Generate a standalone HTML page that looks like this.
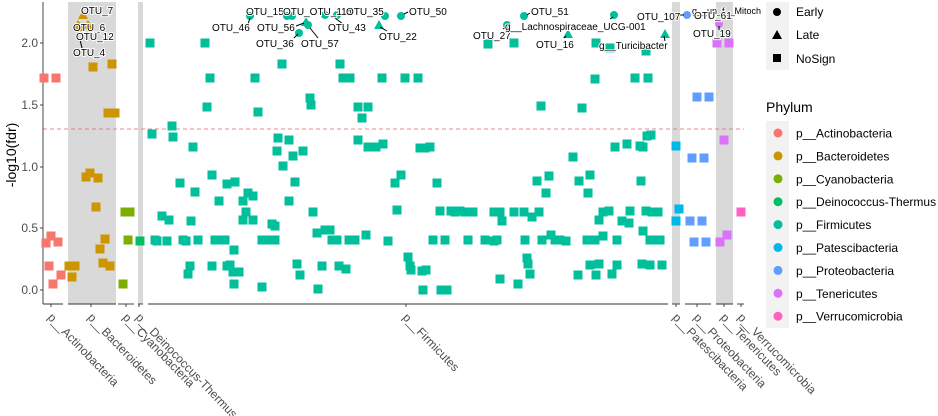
<!DOCTYPE html>
<html><head><meta charset="utf-8"><style>
html,body{margin:0;padding:0;background:#fff;width:938px;height:416px;overflow:hidden}
svg{font-family:"Liberation Sans",sans-serif}
</style></head><body>
<svg id="s" width="938" height="416" xmlns="http://www.w3.org/2000/svg">
<rect x="68" y="2" width="48" height="302" fill="#d9d9d9"/>
<rect x="138" y="2" width="5" height="302" fill="#d9d9d9"/>
<rect x="672" y="2" width="8" height="302" fill="#d9d9d9"/>
<rect x="716" y="2" width="17" height="302" fill="#d9d9d9"/>
<line x1="43" y1="129" x2="744" y2="129" stroke="#e06666" stroke-width="0.8" stroke-dasharray="4,3"/>
<line x1="43" y1="2" x2="43" y2="304" stroke="#333" stroke-width="0.9"/>
<g stroke="#333" stroke-width="0.9">
<line x1="40" y1="43" x2="43" y2="43"/><line x1="40" y1="105" x2="43" y2="105"/><line x1="40" y1="167" x2="43" y2="167"/><line x1="40" y1="228" x2="43" y2="228"/><line x1="40" y1="290" x2="43" y2="290"/>
</g>
<g font-size="12" fill="#4d4d4d" text-anchor="end">
<text x="38" y="47">2.0</text><text x="38" y="109">1.5</text><text x="38" y="171">1.0</text><text x="38" y="232">0.5</text><text x="38" y="294">0.0</text>
</g>
<text transform="translate(16,155) rotate(-90)" font-size="14" text-anchor="middle" fill="#000">-log10(fdr)</text>
<g stroke="#333" stroke-width="0.9">
<line x1="43" y1="304" x2="63" y2="304"/><line x1="68" y1="304" x2="116" y2="304"/><line x1="118" y1="304" x2="134" y2="304"/><line x1="138" y1="304" x2="143" y2="304"/><line x1="148" y1="304" x2="668" y2="304"/><line x1="672" y1="304" x2="680" y2="304"/><line x1="685" y1="304" x2="711" y2="304"/><line x1="716" y1="304" x2="733" y2="304"/><line x1="737" y1="304" x2="744" y2="304"/>
<line x1="51" y1="304" x2="51" y2="307"/><line x1="91" y1="304" x2="91" y2="307"/><line x1="126" y1="304" x2="126" y2="307"/><line x1="139" y1="304" x2="139" y2="307"/><line x1="406" y1="304" x2="406" y2="307"/><line x1="676" y1="304" x2="676" y2="307"/><line x1="697" y1="304" x2="697" y2="307"/><line x1="724" y1="304" x2="724" y2="307"/><line x1="741" y1="304" x2="741" y2="307"/>
</g>
<g font-size="12" fill="#4d4d4d">
<text transform="translate(47,318) rotate(46)">p__Actinobacteria</text>
<text transform="translate(87,318) rotate(46)">p__Bacteroidetes</text>
<text transform="translate(122,318) rotate(46)">p__Cyanobacteria</text>
<text transform="translate(135,318) rotate(46)">p__Deinococcus-Thermus</text>
<text transform="translate(402,318) rotate(46)">p__Firmicutes</text>
<text transform="translate(672,318) rotate(46)">p__Patescibacteria</text>
<text transform="translate(693,318) rotate(46)">p__Proteobacteria</text>
<text transform="translate(720,318) rotate(46)">p__Tenericutes</text>
<text transform="translate(737,318) rotate(46)">p__Verrucomicrobia</text>
</g>
<g id="pts"></g>
<g fill="#CD9600">
<polygon points="83,10 88,19 78,19"/><polygon points="78,20 83,29 73,29"/><polygon points="88,20 93,29 83,29"/><polygon points="80,22 85,31 75,31"/>
</g>
<g fill="#00BF9A">
<circle cx="250" cy="16" r="4"/><circle cx="287" cy="16" r="4"/><circle cx="292" cy="16" r="4"/><polygon points="306,17 311,26 301,26"/><circle cx="308" cy="25" r="4"/><circle cx="299" cy="33" r="4"/><circle cx="325" cy="15" r="4"/><circle cx="337" cy="15" r="4"/><circle cx="385" cy="16" r="4"/><polygon points="379,20 384,29 374,29"/><circle cx="401" cy="16" r="4"/><circle cx="507" cy="25" r="4"/><circle cx="524" cy="16" r="4"/><circle cx="614" cy="15" r="4"/><polygon points="568,29 573,38 563,38"/><polygon points="665,29 670,38 660,38"/>
</g>
<circle cx="687" cy="15" r="4" fill="#619CFF"/>
<circle cx="719" cy="24" r="4" fill="#DB72FB"/>
<g stroke="#000" stroke-width="1">
<line x1="80" y1="40" x2="82" y2="48"/><line x1="248" y1="24" x2="250" y2="18"/><line x1="296" y1="26" x2="304" y2="23"/><line x1="310" y1="28" x2="318" y2="38"/><line x1="294" y1="38" x2="298" y2="34"/><line x1="335" y1="18" x2="343" y2="24"/><line x1="380" y1="27" x2="387" y2="31"/><line x1="404" y1="14" x2="408" y2="12"/><line x1="503" y1="29" x2="506" y2="27"/><line x1="527" y1="15" x2="530" y2="13"/><line x1="610" y1="19" x2="613" y2="17"/><line x1="564" y1="38" x2="566" y2="36"/><line x1="664" y1="36" x2="665" y2="41"/><line x1="677" y1="15" x2="684" y2="15"/><line x1="719" y1="26" x2="719" y2="30"/>
</g>
<g font-size="10" fill="#000" stroke="#fff" stroke-width="2" paint-order="stroke">
<text x="81" y="14">OTU_7</text><text x="73" y="31">OTU_6</text><text x="76" y="40">OTU_12</text><text x="73" y="56">OTU_4</text>
<text x="246" y="15">OTU_15</text><text x="283" y="15">OTU_OTU_114</text><text x="212" y="31">OTU_46</text><text x="257" y="31">OTU_56</text><text x="256" y="47">OTU_36</text><text x="301" y="47">OTU_57</text><text x="328" y="31">OTU_43</text><text x="346" y="15">OTU_35</text><text x="379" y="40">OTU_22</text><text x="409" y="15">OTU_50</text>
<text x="473" y="39">OTU_27</text><text x="531" y="15">OTU_51</text><text x="505" y="30">g__Lachnospiraceae_UCG-001</text><text x="536" y="48">OTU_16</text><text x="599" y="49">g__Turicibacter</text>
<text x="637" y="20">OTU_107</text><text x="692" y="14" font-size="9">g__un_f__Mitoch</text><text x="694" y="19">OTU_61</text><text x="693" y="37">OTU_19</text>
</g>
<rect x="766" y="2" width="23" height="68" fill="#f2f2f2"/>
<circle cx="777" cy="12" r="4"/><polygon points="777,30 782,39 772,39"/><rect x="773" y="54" width="8" height="8"/>
<g font-size="12" fill="#000"><text x="796" y="16">Early</text><text x="796" y="39">Late</text><text x="796" y="63">NoSign</text></g>
<text x="766" y="112" font-size="14">Phylum</text>
<rect x="766" y="121" width="23" height="207" fill="#f2f2f2"/>
<g id="leg" font-size="12"></g>
</svg>
<script>
var C={a:"#F8766D",b:"#CD9600",c:"#7CAE00",d:"#00BE67",f:"#00BF9A",p:"#00B8E7",r:"#619CFF",t:"#DB72FB",v:"#FF61C3"};
var P={a:[[44,78],[56,78],[46,243],[51,236],[58,242],[49,266],[61,275],[53,284]],
b:[[93,67],[112,64],[108,113],[115,113],[86,177],[90,173],[98,178],[96,207],[105,239],[100,249],[75,266],[72,277],[69,266],[103,263],[110,266]],
c:[[125,212],[130,212],[128,240],[123,284]],d:[[140,241]],
f:[[150,43],[152,134],[162,216],[155,240],[172,126],[173,137],[157,241],[167,241],[169,220],[180,183],[183,240],[186,241],[191,221],[193,147],[195,192],[198,240],[190,266],[188,274],[205,43],[207,107],[210,78],[212,175],[215,240],[219,201],[222,240],[225,240],[227,184],[230,265],[212,266],[227,266],[233,272],[235,182],[234,250],[239,272],[243,201],[243,220],[246,212],[248,193],[253,196],[255,78],[258,112],[253,220],[234,284],[262,240],[266,240],[262,287],[275,240],[272,224],[275,226],[277,151],[278,138],[282,64],[283,166],[289,140],[293,156],[289,201],[295,182],[300,275],[303,151],[297,264],[310,98],[311,105],[313,212],[317,233],[318,289],[325,230],[322,266],[330,230],[332,240],[337,240],[340,64],[339,266],[343,78],[346,269],[350,78],[349,240],[355,240],[358,107],[358,140],[368,107],[362,118],[366,235],[368,147],[376,147],[382,78],[383,144],[388,241],[395,183],[397,210],[401,175],[405,78],[408,257],[410,266],[411,270],[418,78],[420,148],[422,271],[425,148],[423,290],[426,270],[433,240],[430,147],[437,183],[440,211],[445,240],[441,290],[447,290],[451,211],[455,212],[460,211],[465,212],[468,240],[473,212],[485,240],[488,44],[494,241],[494,212],[500,212],[497,240],[502,221],[500,279],[514,43],[514,212],[524,212],[525,240],[518,284],[527,258],[528,264],[532,217],[530,274],[537,181],[539,212],[542,240],[546,193],[541,106],[549,176],[551,235],[555,240],[560,240],[566,241],[573,157],[579,181],[582,108],[578,275],[587,240],[590,175],[588,193],[590,265],[595,240],[596,43],[599,220],[603,236],[595,79],[599,264],[603,212],[609,211],[612,274],[615,147],[617,240],[622,221],[617,265],[627,144],[629,223],[630,211],[635,78],[640,146],[643,147],[643,231],[641,181],[642,264],[648,78],[646,211],[652,212],[650,240],[658,212],[660,240],[650,265],[651,135],[662,265],[656,240],[610,48],[646,51],[647,136],[596,275]],
p:[[676,146],[679,209],[676,221]],
r:[[697,97],[709,97],[692,158],[704,158],[690,221],[702,221],[694,242],[706,242]],
t:[[717,43],[729,43],[724,140],[727,235],[720,242]],v:[[741,212]]};
var g=document.getElementById("pts"),h="";
for(var k in P)P[k].forEach(function(q){h+='<rect x="'+(q[0]-4.5)+'" y="'+(q[1]-4.5)+'" width="9" height="9" fill="'+C[k]+'"/>';});
g.innerHTML=h;
var L=[["a","Actinobacteria"],["b","Bacteroidetes"],["c","Cyanobacteria"],["d","Deinococcus-Thermus"],["f","Firmicutes"],["p","Patescibacteria"],["r","Proteobacteria"],["t","Tenericutes"],["v","Verrucomicrobia"]];
h="";L.forEach(function(l,i){var y=133+i*22.9;h+='<circle cx="778" cy="'+y+'" r="4.5" fill="'+C[l[0]]+'"/><text x="796" y="'+(y+4.5)+'">p__'+l[1]+'</text>';});
document.getElementById("leg").innerHTML=h;
</script>
</body></html>
